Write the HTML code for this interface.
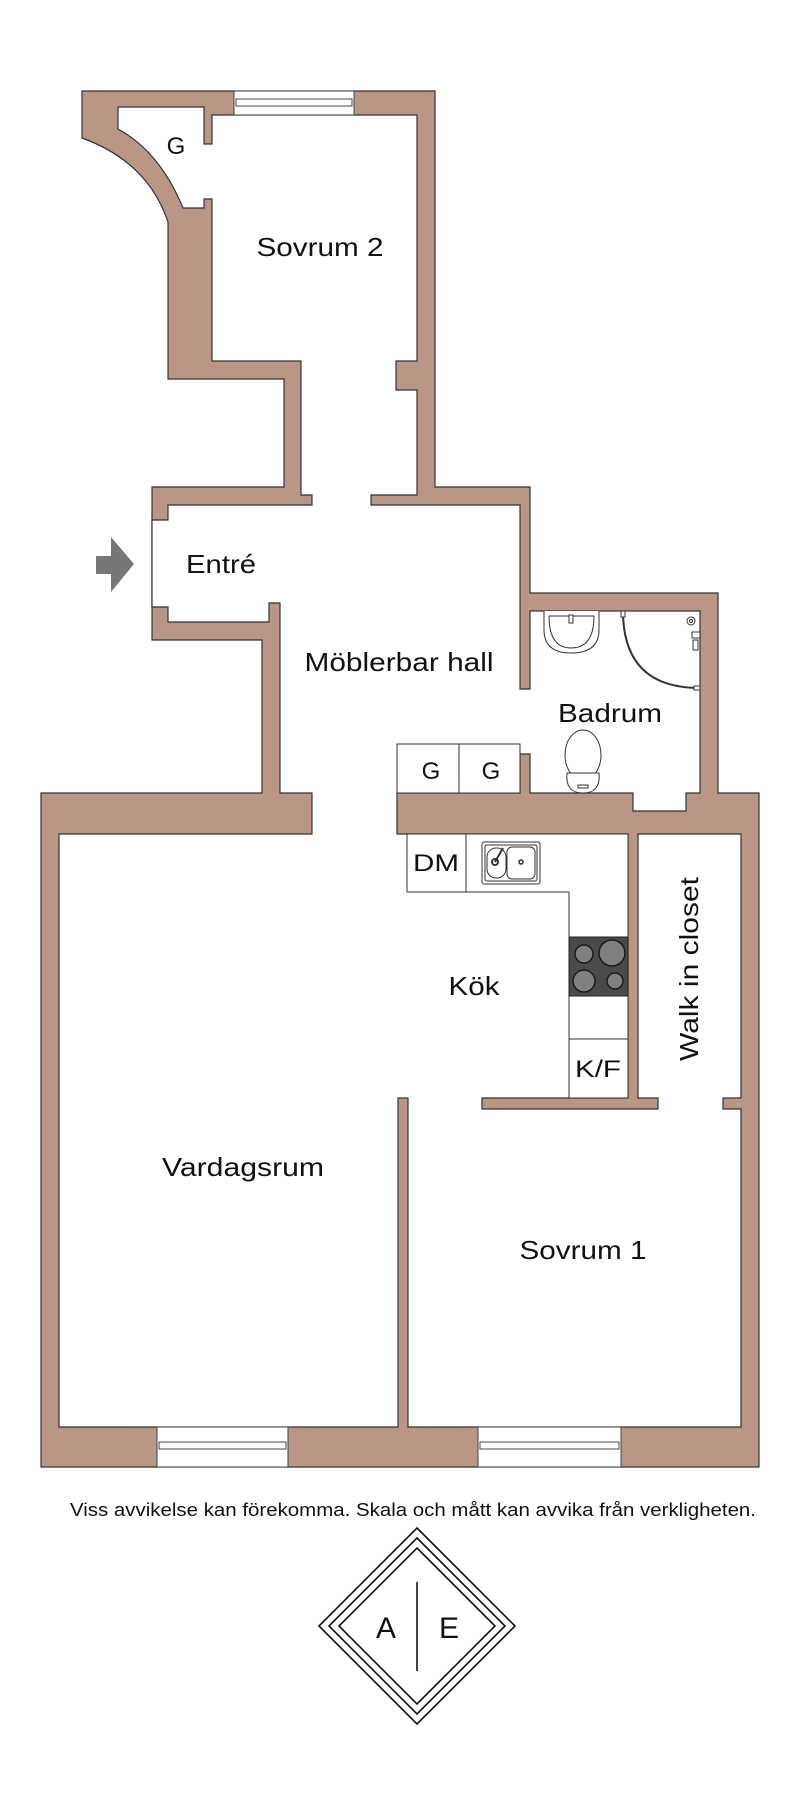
<!DOCTYPE html>
<html><head><meta charset="utf-8"><style>
html,body{margin:0;padding:0;background:#fff;}
svg{display:block;}
text{font-family:"Liberation Sans",sans-serif;fill:#111;}
</style></head><body>
<svg width="800" height="1816" viewBox="0 0 800 1816" xmlns="http://www.w3.org/2000/svg">
<rect width="800" height="1816" fill="#fff"/>
<!-- walls -->
<path d="M82,91 L435,91 L435,487 L530,487 L530,593 L718,593 L718,793 L759,793 L759,1467 L41,1467 L41,793 L262,793 L262,640 L152,640 L152,487 L284,487 L284,379 L168,379 L168,222 Q148,162 82,138 Z" fill="#b99686" stroke="#333" stroke-width="1.2"/>
<!-- interior -->
<path d="M118,107 L204,107 L204,144 L212,144 L212,115 L417,115 L417,361 L396,361 L396,390 L417,390 L417,495 L371,495 L371,505 L520,505 L520,689 L530,689 L530,611 L700,611 L700,793 L686,793 L686,811 L633,811 L633,793 L530,793 L530,754 L520,754 L520,793 L397,793 L397,834 L628,834 L628,1098 L482,1098 L482,1109 L658,1109 L658,1098 L638,1098 L638,834 L741,834 L741,1098 L723,1098 L723,1109 L741,1109 L741,1427 L408,1427 L408,1098 L398,1098 L398,1427 L59,1427 L59,834 L312,834 L312,793 L280,793 L280,603 L269,603 L269,622 L168,622 L168,607 L152,607 L152,520 L168,520 L168,505 L312,505 L312,495 L301,495 L301,361 L212,361 L212,199 L204,199 L204,208 L183,208 Q160,152 118,129 Z" fill="#fff" stroke="#333" stroke-width="1.2"/>
<!-- windows -->
<g fill="#fff" stroke="#444" stroke-width="1">
<rect x="234" y="91" width="120" height="24"/>
<rect x="236" y="99" width="116" height="7"/>
<rect x="157" y="1427" width="131" height="40"/>
<rect x="159" y="1442" width="127" height="7"/>
<rect x="478" y="1427" width="143" height="40"/>
<rect x="480" y="1442" width="139" height="7"/>
</g>
<!-- entry arrow -->
<path d="M96,556 L111,556 L111,537 L134,564 L111,592 L111,574 L96,574 Z" fill="#777"/>
<!-- cabinets G G -->
<g fill="#fff" stroke="#333" stroke-width="1">
<rect x="397" y="744" width="62" height="49"/>
<rect x="459" y="744" width="61" height="49"/>
<rect x="407" y="834" width="59" height="58"/>
<path d="M466,834 L628,834 L628,1098 L569,1098 L569,892 L466,892 Z"/>
<line x1="569" y1="1039" x2="628" y2="1039"/>
</g>
<!-- stove -->
<rect x="569" y="937" width="59" height="59" fill="#4a4a4a" stroke="#222"/>
<g fill="#808080" stroke="#1a1a1a" stroke-width="1.5">
<circle cx="584" cy="954" r="9"/><circle cx="612" cy="953" r="13"/>
<circle cx="584" cy="981" r="11"/><circle cx="615" cy="981" r="8"/>
</g>
<!-- sink -->
<g fill="#fff" stroke="#333" stroke-width="1">
<rect x="482" y="842" width="58" height="42" rx="2"/>
<rect x="485" y="845" width="52" height="36" rx="2"/>
<rect x="487" y="848" width="19" height="30" rx="9"/>
<rect x="507" y="847" width="28" height="32" rx="5"/>
<circle cx="495" cy="862" r="3" stroke-width="2"/>
<circle cx="521" cy="862" r="2" stroke-width="1.5"/>
<line x1="495" y1="862" x2="503" y2="848" stroke-width="2"/>
</g>
<!-- bathroom sink -->
<g fill="#fff" stroke="#333" stroke-width="1">
<path d="M544,611 L544,630 Q544,653 571,653 Q599,653 599,630 L599,611"/>
<path d="M549,616 Q549,648 571,648 Q594,648 594,616 Z"/>
<rect x="569" y="615" width="4" height="8"/>
<!-- shower -->
<path d="M623,611 Q623,688 700,688" fill="none" stroke-width="2"/>
<rect x="621" y="611" width="4" height="6"/>
<rect x="694" y="686" width="6" height="4"/>
<circle cx="691" cy="621" r="4"/><circle cx="691" cy="621" r="1.5"/>
<rect x="692" y="632" width="8" height="6"/>
<rect x="693" y="640" width="5" height="10"/>
<!-- toilet -->
<ellipse cx="583" cy="755" rx="18" ry="25"/>
<path d="M567,773 L599,773 Q601,793 583,793 Q565,793 567,773 Z"/>
<rect x="578" y="785" width="10" height="3"/>
</g>
<!-- labels -->
<text x="176" y="154" font-size="24" text-anchor="middle">G</text>
<text x="320" y="256" font-size="26" text-anchor="middle" textLength="127" lengthAdjust="spacingAndGlyphs">Sovrum 2</text>
<text x="221" y="573" font-size="26" text-anchor="middle" textLength="70" lengthAdjust="spacingAndGlyphs">Entré</text>
<text x="399" y="671" font-size="26" text-anchor="middle" textLength="189" lengthAdjust="spacingAndGlyphs">Möblerbar hall</text>
<text x="610" y="722" font-size="26" text-anchor="middle" textLength="104" lengthAdjust="spacingAndGlyphs">Badrum</text>
<text x="431" y="779" font-size="24" text-anchor="middle">G</text>
<text x="491" y="779" font-size="24" text-anchor="middle">G</text>
<text x="436" y="871" font-size="24" text-anchor="middle" textLength="46" lengthAdjust="spacingAndGlyphs">DM</text>
<text x="474" y="995" font-size="26" text-anchor="middle" textLength="51" lengthAdjust="spacingAndGlyphs">Kök</text>
<text x="598" y="1077" font-size="24" text-anchor="middle" textLength="46" lengthAdjust="spacingAndGlyphs">K/F</text>
<text x="243" y="1176" font-size="26" text-anchor="middle" textLength="162" lengthAdjust="spacingAndGlyphs">Vardagsrum</text>
<text x="583" y="1259" font-size="26" text-anchor="middle" textLength="127" lengthAdjust="spacingAndGlyphs">Sovrum 1</text>
<text x="0" y="0" font-size="26" text-anchor="middle" textLength="184" lengthAdjust="spacingAndGlyphs" transform="translate(698,969) rotate(-90)">Walk in closet</text>
<text x="413" y="1516" font-size="18" text-anchor="middle" textLength="686" lengthAdjust="spacingAndGlyphs">Viss avvikelse kan förekomma. Skala och mått kan avvika från verkligheten.</text>
<!-- logo -->
<g fill="none" stroke="#111" stroke-width="1.6">
<path d="M417,1528 L515,1626 L417,1724 L319,1626 Z"/>
<path d="M417,1538 L505,1626 L417,1714 L329,1626 Z"/>
<path d="M417,1548 L495,1626 L417,1704 L339,1626 Z"/>
<line x1="417" y1="1582" x2="417" y2="1671"/>
</g>
<text x="386" y="1638" font-size="30" text-anchor="middle" font-weight="normal">A</text>
<text x="449" y="1638" font-size="30" text-anchor="middle">E</text>
</svg>
</body></html>
